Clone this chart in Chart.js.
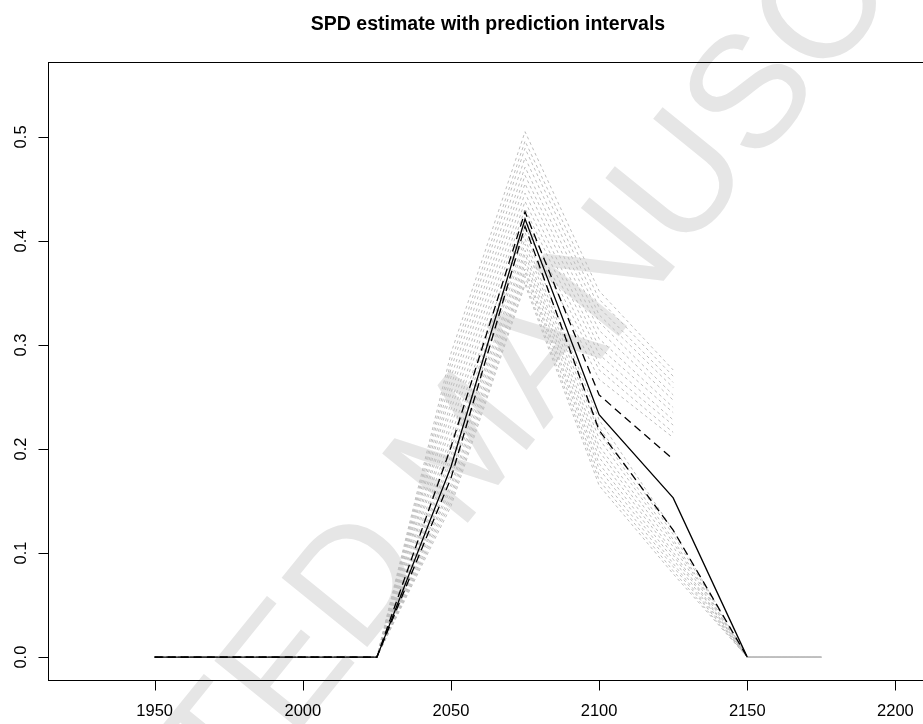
<!DOCTYPE html>
<html>
<head>
<meta charset="utf-8">
<script src="https://cdn.jsdelivr.net/npm/chart.js@4.4.1/dist/chart.umd.min.js"></script>
<style>
  html, body { margin: 0; padding: 0; background: #fff; overflow: hidden; }
  #wrap { width: 940px; height: 724px; }
</style>
</head>
<body>
<div id="wrap"><canvas id="spdChart" width="940" height="724"></canvas></div>
<script>
// calendar years of the bins
var years = [1950, 1975, 2000, 2025, 2050, 2075, 2100, 2125, 2150, 2175];

// SPD estimate and the prediction interval bounds
var spd     = [0, 0, 0, 0, 0.183, 0.421, 0.233, 0.153, 0, null];
var upperPI = [0, 0, 0, 0, 0.202, 0.428, 0.252, 0.190, null, null];
var lowerPI = [0, 0, 0, 0, 0.172, 0.414, 0.218, 0.122, 0, null];

// simulated curves (grey), upper group stops at 2125
var simHigh = [
    [0, 0, 0, 0, 0.292, 0.505, 0.352, 0.276, null, null],
    [0, 0, 0, 0, 0.284, 0.496, 0.344, 0.270, null, null],
    [0, 0, 0, 0, 0.277, 0.489, 0.336, 0.264, null, null],
    [0, 0, 0, 0, 0.269, 0.480, 0.329, 0.259, null, null],
    [0, 0, 0, 0, 0.261, 0.471, 0.322, 0.252, null, null],
    [0, 0, 0, 0, 0.254, 0.463, 0.314, 0.247, null, null],
    [0, 0, 0, 0, 0.245, 0.455, 0.306, 0.240, null, null],
    [0, 0, 0, 0, 0.238, 0.446, 0.298, 0.235, null, null],
    [0, 0, 0, 0, 0.229, 0.438, 0.291, 0.228, null, null],
    [0, 0, 0, 0, 0.222, 0.431, 0.282, 0.223, null, null],
    [0, 0, 0, 0, 0.213, 0.421, 0.276, 0.216, null, null],
    [0, 0, 0, 0, 0.206, 0.414, 0.267, 0.211, null, null]
];
var simLow = [
    [0, 0, 0, 0, 0.200, 0.408, 0.228, 0.122, 0, 0],
    [0, 0, 0, 0, 0.194, 0.402, 0.221, 0.118, 0, 0],
    [0, 0, 0, 0, 0.189, 0.397, 0.216, 0.113, 0, 0],
    [0, 0, 0, 0, 0.182, 0.391, 0.210, 0.110, 0, 0],
    [0, 0, 0, 0, 0.177, 0.387, 0.203, 0.106, 0, 0],
    [0, 0, 0, 0, 0.172, 0.382, 0.198, 0.101, 0, 0],
    [0, 0, 0, 0, 0.166, 0.378, 0.192, 0.098, 0, 0],
    [0, 0, 0, 0, 0.162, 0.373, 0.186, 0.094, 0, 0],
    [0, 0, 0, 0, 0.157, 0.370, 0.181, 0.090, 0, 0],
    [0, 0, 0, 0, 0.153, 0.366, 0.175, 0.087, 0, 0],
    [0, 0, 0, 0, 0.149, 0.361, 0.170, 0.083, 0, 0],
    [0, 0, 0, 0, 0.145, 0.358, 0.165, 0.080, 0, 0]
];

// axis ticks
var xTicks = [1950, 2000, 2050, 2100, 2150, 2200];
var yTicks = [0, 0.1, 0.2, 0.3, 0.4, 0.5];
var yTickLabels = ["0.0", "0.1", "0.2", "0.3", "0.4", "0.5"];

var titleText = "SPD estimate with prediction intervals";
var watermark = "ACCEPTED MANUSCRIPT";

function pts(vals) {
    return years.map(function (yr, i) { return { x: yr, y: vals[i] }; });
}

var datasets = [];
datasets.push({ data: pts(upperPI), borderColor: "#000", borderWidth: 1.3, borderDash: [8, 5] });
datasets.push({ data: pts(lowerPI), borderColor: "#000", borderWidth: 1.3, borderDash: [8, 5] });
datasets.push({ data: pts(spd), borderColor: "#000", borderWidth: 1.3 });
simHigh.concat(simLow).forEach(function (s) {
    datasets.push({ data: pts(s), borderColor: "#bebebe", borderWidth: 1, borderDash: [3, 3] });
});

var rStyle = {
    id: "rStyle",
    beforeDatasetsDraw: function (chart) {
        // faint diagonal watermark behind the lines
        var ctx = chart.ctx;
        ctx.save();
        ctx.translate(470, 450);
        ctx.rotate(-51 * Math.PI / 180);
        ctx.fillStyle = "#e6e6e6";
        ctx.font = "160px 'Liberation Sans', Arial, sans-serif";
        ctx.textAlign = "center";
        ctx.textBaseline = "middle";
        ctx.fillText(watermark, 0, 0);
        ctx.restore();
    },
    afterDraw: function (chart) {
        var ctx = chart.ctx;
        var a = chart.chartArea;
        var xs = chart.scales.x, ys = chart.scales.y;
        ctx.save();
        ctx.strokeStyle = "#000";
        ctx.fillStyle = "#000";
        ctx.lineWidth = 1;

        // box
        ctx.strokeRect(Math.round(a.left) + 0.5, Math.round(a.top) + 0.5,
            Math.round(a.right - a.left), Math.round(a.bottom - a.top));

        // x axis
        var yb = Math.round(a.bottom) + 0.5;
        ctx.beginPath();
        ctx.moveTo(xs.getPixelForValue(xTicks[0]), yb);
        ctx.lineTo(xs.getPixelForValue(xTicks[xTicks.length - 1]), yb);
        xTicks.forEach(function (t) {
            var px = Math.round(xs.getPixelForValue(t)) + 0.5;
            ctx.moveTo(px, yb);
            ctx.lineTo(px, yb + 10);
        });
        ctx.stroke();
        ctx.font = "16.5px 'Liberation Sans', Arial, sans-serif";
        ctx.textAlign = "center";
        ctx.textBaseline = "middle";
        xTicks.forEach(function (t) {
            ctx.fillText(String(t), xs.getPixelForValue(t), 711);
        });

        // y axis
        var xl = Math.round(a.left) + 0.5;
        ctx.beginPath();
        ctx.moveTo(xl, ys.getPixelForValue(yTicks[0]));
        ctx.lineTo(xl, ys.getPixelForValue(yTicks[yTicks.length - 1]));
        yTicks.forEach(function (t) {
            var py = Math.round(ys.getPixelForValue(t)) + 0.5;
            ctx.moveTo(xl, py);
            ctx.lineTo(xl - 10, py);
        });
        ctx.stroke();
        yTicks.forEach(function (t, i) {
            ctx.save();
            ctx.translate(21, ys.getPixelForValue(t));
            ctx.rotate(-Math.PI / 2);
            ctx.fillText(yTickLabels[i], 0, 0);
            ctx.restore();
        });

        // title
        ctx.font = "bold 19.5px 'Liberation Sans', Arial, sans-serif";
        ctx.fillText(titleText, (a.left + a.right) / 2, 25);
        ctx.restore();
    }
};

new Chart(document.getElementById("spdChart"), {
    type: "line",
    data: { datasets: datasets },
    options: {
        responsive: false,
        animation: false,
        layout: { padding: { left: 48, top: 62, right: 12, bottom: 44 } },
        elements: { point: { radius: 0 }, line: { tension: 0, fill: false } },
        plugins: { legend: { display: false }, tooltip: { enabled: false }, title: { display: false } },
        scales: {
            x: { type: "linear", min: 1914, max: 2211, display: false },
            y: { type: "linear", min: -0.022, max: 0.572, display: false }
        }
    },
    plugins: [rStyle]
});
</script>
</body>
</html>
